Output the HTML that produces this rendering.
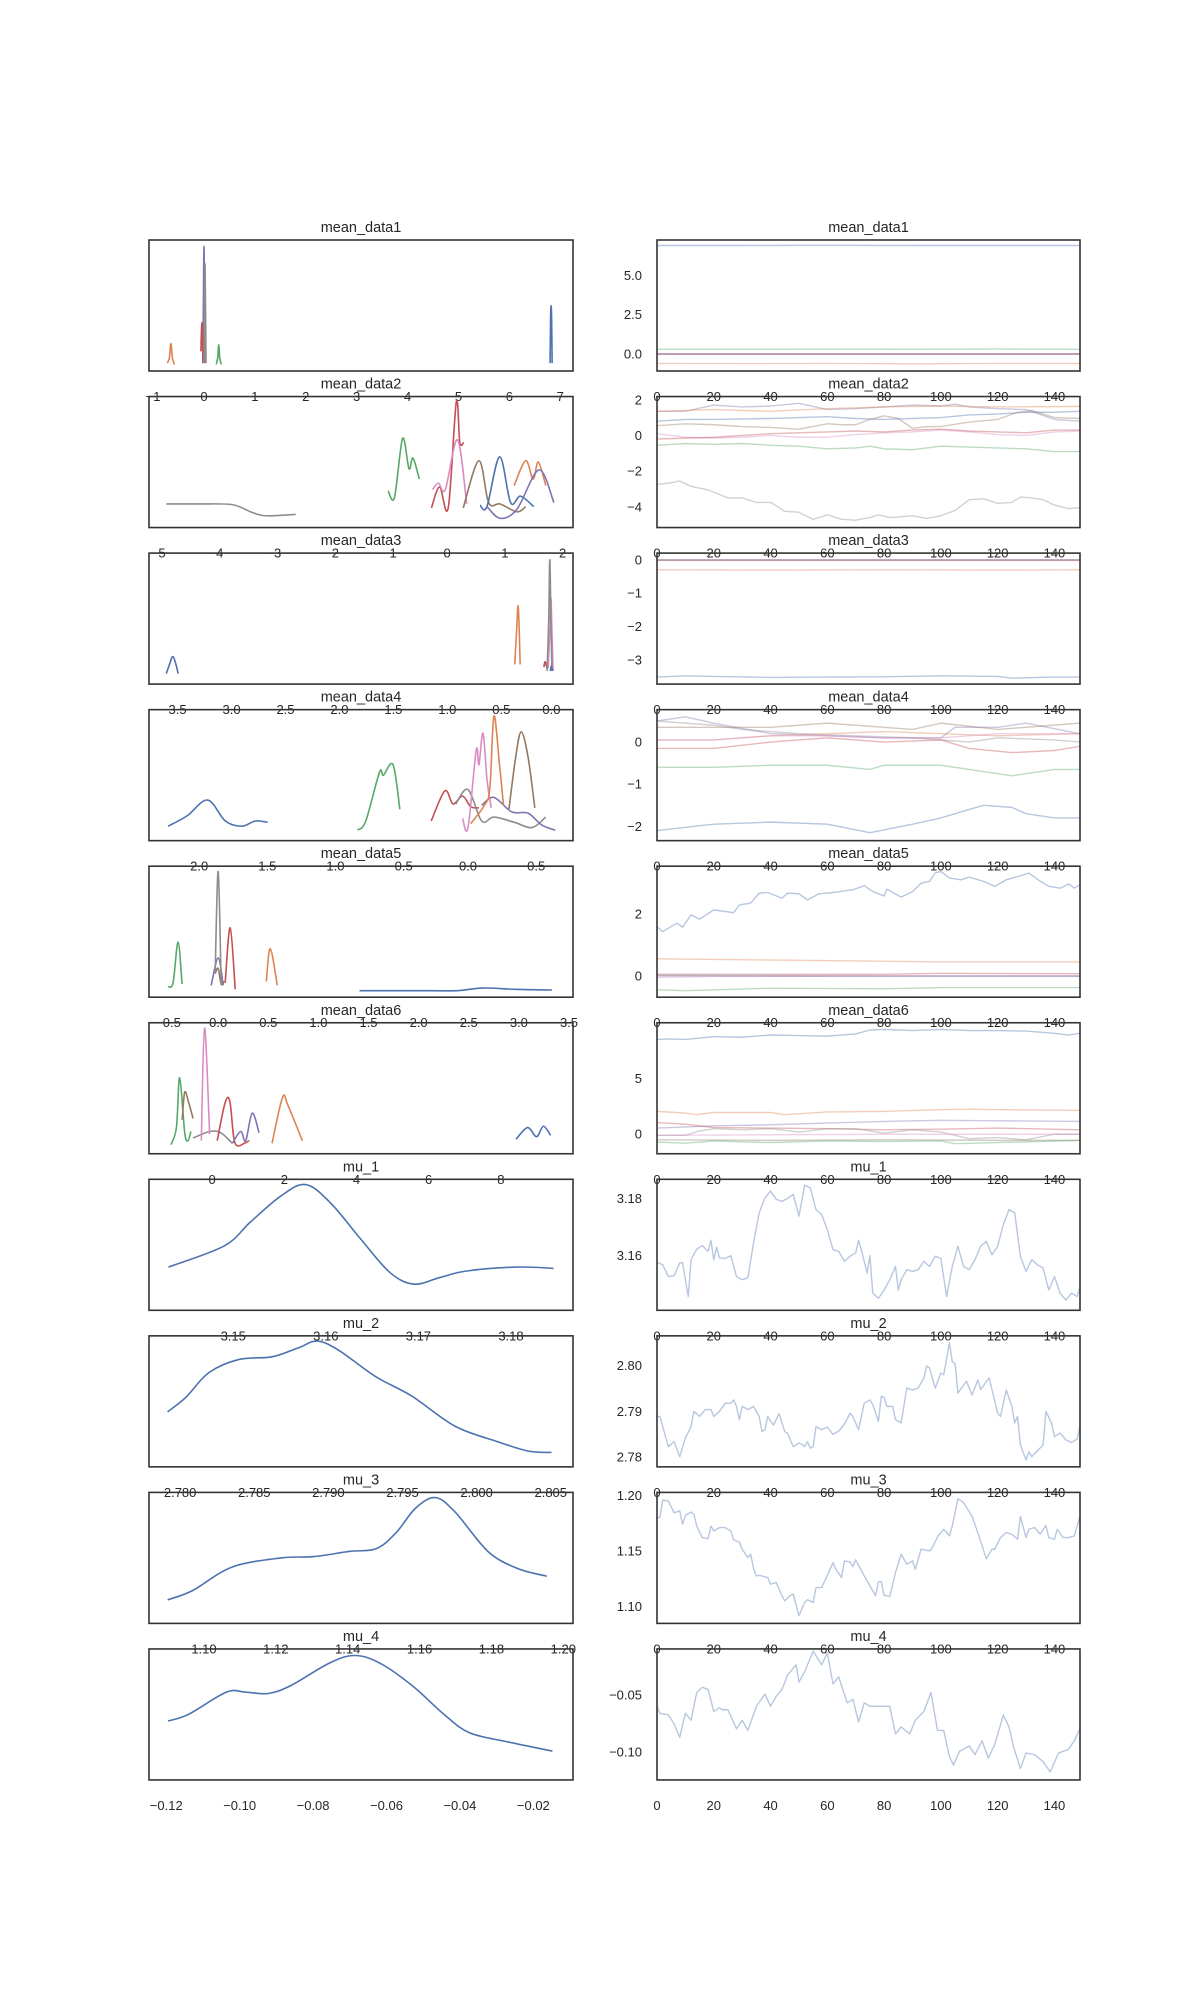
<!DOCTYPE html>
<html><head><meta charset="utf-8"><style>
html,body{margin:0;padding:0;background:#fff;}
svg{display:block;font-family:"Liberation Sans",sans-serif;}
</style></head><body>
<svg id="chart" width="1200" height="2000" viewBox="0 0 1200 2000" xmlns="http://www.w3.org/2000/svg"></svg>
<script>
// ---------- layout ----------
const LX0=149, LX1=573, RX0=657, RX1=1080, TOP0=240, PITCH=156.55, H=131;
const COL={blue:'#4c72b0',orange:'#dd8452',green:'#55a868',red:'#c44e52',purple:'#8172b3',brown:'#937860',pink:'#da8bc3',gray:'#8c8c8c'};

// ---------- data ----------
const titles=['mean_data1','mean_data2','mean_data3','mean_data4','mean_data5','mean_data6','mu_1','mu_2','mu_3','mu_4'];
const lims=[[-1.08,7.25],[-5.16,2.18],[-3.73,0.20],[-2.34,0.77],[-0.69,3.54],[-1.75,10.0],[3.1409,3.1867],[2.7779,2.8065],[1.0847,1.2027],[-0.1247,-0.0092]];
const kdeTicks=[[-1,0,1,2,3,4,5,6,7],[-5,-4,-3,-2,-1,0,1,2],[-3.5,-3,-2.5,-2,-1.5,-1,-0.5,0],[-2,-1.5,-1,-0.5,0,0.5],[-0.5,0,0.5,1,1.5,2,2.5,3,3.5],[0,2,4,6,8],[3.15,3.16,3.17,3.18],[2.78,2.785,2.79,2.795,2.8,2.805],[1.10,1.12,1.14,1.16,1.18,1.20],[-0.12,-0.10,-0.08,-0.06,-0.04,-0.02]];
const kdeTickDigits=[0,0,1,1,1,0,2,3,2,2];
const traceTicks=[[0,2.5,5],[-4,-2,0,2],[-3,-2,-1,0],[-2,-1,0],[0,2],[0,5],[3.16,3.18],[2.78,2.79,2.80],[1.10,1.15,1.20],[-0.10,-0.05]];
const traceTickDigits=[1,0,0,0,0,0,2,2,2,2];
const iterTicks=[0,20,40,60,80,100,120,140];
const iterLim=[0,149];

const kde0=[
 {c:'orange',x:[-0.72,-0.68,-0.65,-0.62,-0.58],d:[0.06,0.1,0.21,0.1,0.05]},
 {c:'purple',x:[-0.02,-0.01,0.0,0.01,0.02],d:[0.06,0.6,0.95,0.6,0.06]},
 {c:'red',x:[-0.06,-0.05,-0.04,-0.03,-0.02],d:[0.15,0.3,0.37,0.3,0.06]},
 {c:'gray',x:[0.0,0.01,0.02,0.03,0.04],d:[0.06,0.5,0.82,0.5,0.06]},
 {c:'green',x:[0.24,0.27,0.29,0.31,0.34],d:[0.05,0.1,0.2,0.1,0.05]},
 {c:'blue',x:[6.80,6.81,6.82,6.83,6.84],d:[0.06,0.4,0.5,0.4,0.06]}];
const kde1=[
 {c:'gray',x:[-4.86,-4.3,-3.72,-3.4,-3.14,-2.62],d:[0.18,0.18,0.175,0.12,0.09,0.10]},
 {c:'green',x:[-1.02,-0.91,-0.77,-0.66,-0.59,-0.48],d:[0.28,0.23,0.68,0.45,0.53,0.37]},
 {c:'red',x:[-0.27,-0.13,0.02,0.16,0.22,0.29],d:[0.15,0.31,0.15,0.96,0.65,0.65]},
 {c:'pink',x:[-0.25,-0.15,-0.03,0.18,0.34],d:[0.29,0.34,0.29,0.67,0.18]},
 {c:'brown',x:[0.28,0.55,0.72,0.92,1.21,1.36],d:[0.15,0.51,0.19,0.18,0.12,0.16]},
 {c:'blue',x:[0.57,0.69,0.91,1.10,1.27,1.5],d:[0.17,0.16,0.54,0.19,0.24,0.16]},
 {c:'orange',x:[1.16,1.36,1.49,1.58,1.71],d:[0.32,0.51,0.37,0.50,0.32]},
 {c:'purple',x:[0.69,0.92,1.21,1.59,1.85],d:[0.16,0.07,0.14,0.44,0.19]}];
const kde2=[
 {c:'blue',x:[-3.57,-3.54,-3.51,-3.48,-3.46],d:[0.08,0.15,0.21,0.15,0.08]},
 {c:'orange',x:[-0.34,-0.32,-0.31,-0.30,-0.29],d:[0.15,0.45,0.6,0.45,0.15]},
 {c:'red',x:[-0.07,-0.06,-0.05,-0.04],d:[0.13,0.17,0.15,0.12]},
 {c:'pink',x:[-0.03,-0.015,-0.005,0.005,0.015],d:[0.12,0.4,0.66,0.4,0.1]},
 {c:'gray',x:[-0.04,-0.025,-0.015,-0.005,0.005],d:[0.1,0.5,0.95,0.5,0.1]},
 {c:'blue',x:[-0.01,0.0,0.01],d:[0.1,0.14,0.1]}];
const kde3=[
 {c:'blue',x:[-2.20,-2.06,-1.91,-1.78,-1.66,-1.56,-1.47],d:[0.11,0.19,0.31,0.15,0.11,0.15,0.14]},
 {c:'green',x:[-0.81,-0.75,-0.65,-0.62,-0.55,-0.50],d:[0.08,0.15,0.52,0.5,0.58,0.24]},
 {c:'red',x:[-0.27,-0.17,-0.11,-0.04,0.02,0.08],d:[0.15,0.38,0.28,0.34,0.26,0.25]},
 {c:'gray',x:[-0.09,0.0,0.10,0.19,0.34,0.47,0.57],d:[0.28,0.39,0.15,0.18,0.14,0.1,0.18]},
 {c:'purple',x:[0.10,0.19,0.32,0.44,0.54,0.64],d:[0.27,0.33,0.22,0.21,0.12,0.08]},
 {c:'pink',x:[-0.04,0.0,0.06,0.08,0.11,0.14,0.17],d:[0.17,0.1,0.69,0.58,0.82,0.46,0.25]},
 {c:'orange',x:[0.02,0.12,0.16,0.19,0.23,0.26],d:[0.13,0.27,0.4,0.95,0.59,0.27]},
 {c:'brown',x:[0.30,0.35,0.39,0.44,0.49],d:[0.24,0.64,0.83,0.64,0.25]}];
const kde4=[
 {c:'green',x:[-0.50,-0.45,-0.40,-0.36],d:[0.08,0.11,0.42,0.1]},
 {c:'purple',x:[-0.07,0.0,0.05],d:[0.09,0.3,0.09]},
 {c:'brown',x:[-0.03,0.0,0.03,0.06],d:[0.18,0.22,0.1,0.12]},
 {c:'gray',x:[-0.03,0.0,0.03],d:[0.18,0.96,0.09]},
 {c:'red',x:[0.07,0.12,0.17],d:[0.11,0.53,0.06]},
 {c:'orange',x:[0.48,0.52,0.59],d:[0.12,0.37,0.09]},
 {c:'blue',x:[1.41,2.1,2.38,2.64,2.97,3.33],d:[0.05,0.05,0.05,0.07,0.06,0.055]}];
const kde5=[
 {c:'green',x:[-1.14,-0.99,-0.90,-0.76,-0.67,-0.59],d:[0.07,0.2,0.58,0.16,0.1,0.17]},
 {c:'brown',x:[-0.83,-0.76,-0.65,-0.53],d:[0.26,0.47,0.39,0.27]},
 {c:'gray',x:[-0.53,-0.07,0.24,0.56],d:[0.12,0.17,0.16,0.08]},
 {c:'pink',x:[-0.3,-0.21,-0.07],d:[0.1,0.96,0.15]},
 {c:'red',x:[0.14,0.36,0.49,0.6,0.71,0.89,1.03],d:[0.1,0.39,0.4,0.12,0.06,0.08,0.1]},
 {c:'purple',x:[0.56,0.79,0.93,1.11,1.3],d:[0.08,0.17,0.1,0.31,0.16]},
 {c:'orange',x:[1.66,1.95,2.1,2.5],d:[0.08,0.43,0.37,0.1]},
 {c:'blue',x:[8.42,8.74,8.99,9.18,9.38],d:[0.11,0.2,0.13,0.21,0.14]}];
const kde6=[{c:'blue',x:[3.143,3.149,3.1518,3.1551,3.1578,3.1605,3.1637,3.1669,3.1695,3.1723,3.1752,3.1806,3.1846],d:[0.33,0.49,0.67,0.87,0.96,0.82,0.55,0.29,0.2,0.25,0.3,0.33,0.32]}];
const kde7=[{c:'blue',x:[2.77915,2.78038,2.78195,2.78397,2.78621,2.78801,2.78924,2.7907,2.79317,2.79563,2.79855,2.80147,2.80349,2.80505],d:[0.42,0.53,0.72,0.82,0.84,0.91,0.96,0.89,0.69,0.54,0.31,0.19,0.12,0.11]}];
const kde8=[{c:'blue',x:[1.0899,1.0968,1.1078,1.1215,1.1306,1.1406,1.1479,1.1534,1.1589,1.1644,1.1699,1.179,1.1872,1.1954],d:[0.18,0.25,0.43,0.5,0.51,0.55,0.57,0.69,0.88,0.96,0.85,0.55,0.42,0.36]}];
const kde9=[{c:'blue',x:[-0.1195,-0.114,-0.1036,-0.0983,-0.0922,-0.0861,-0.0757,-0.0687,-0.0617,-0.053,-0.0443,-0.0374,-0.0269,-0.0148],d:[0.45,0.5,0.67,0.67,0.66,0.72,0.89,0.95,0.89,0.72,0.5,0.36,0.29,0.22]}];

const tr0=[
 {c:'blue',it:[0,30,60,90,120,149],v:[6.9,6.9,6.91,6.9,6.9,6.9]},
 {c:'green',it:[0,30,60,90,120,149],v:[0.3,0.3,0.31,0.3,0.32,0.3]},
 {c:'orange',it:[0,30,60,90,120,149],v:[-0.6,-0.61,-0.6,-0.62,-0.6,-0.6]},
 {c:'pink',it:[0,75,149],v:[0.02,0.02,0.02]},
 {c:'gray',it:[0,75,149],v:[0.0,0.0,0.0]},
 {c:'red',it:[0,75,149],v:[0.0,0.0,0.0]},
 {c:'purple',it:[0,75,149],v:[0.0,0.0,0.0]}];
const tr1=[
 {c:'purple',it:[0,10,20,30,40,50,60,70,80,90,100,105,110,120,130,140,149],v:[1.35,1.35,1.7,1.6,1.65,1.8,1.45,1.5,1.6,1.7,1.65,1.75,1.6,1.5,1.45,0.9,0.8]},
 {c:'orange',it:[0,20,40,60,80,100,120,149],v:[1.35,1.45,1.35,1.5,1.6,1.65,1.6,1.63]},
 {c:'blue',it:[0,10,20,40,60,70,80,90,100,110,120,130,140,149],v:[0.8,0.9,0.9,0.95,1.05,0.95,0.9,0.95,1.0,1.15,1.2,1.3,1.3,1.35]},
 {c:'brown',it:[0,10,20,30,40,50,60,65,70,75,80,85,90,95,100,110,120,127,132,140,149],v:[0.55,0.65,0.6,0.5,0.45,0.35,0.65,0.6,0.6,0.9,1.1,0.95,0.4,0.5,0.5,0.75,0.9,1.3,1.4,1.0,0.95]},
 {c:'pink',it:[0,10,20,30,40,50,60,70,80,90,100,110,120,130,140,149],v:[0.1,-0.1,-0.15,-0.1,0.0,-0.1,-0.1,0.05,0.15,0.2,0.3,0.2,0.05,0.0,0.2,0.25]},
 {c:'red',it:[0,10,20,30,40,50,60,70,80,90,100,110,120,130,140,149],v:[-0.2,-0.15,-0.1,0.0,0.1,0.15,0.2,0.25,0.2,0.3,0.35,0.25,0.2,0.15,0.3,0.3]},
 {c:'green',it:[0,10,20,30,40,50,60,70,75,80,90,100,110,120,130,140,149],v:[-0.55,-0.45,-0.5,-0.45,-0.55,-0.6,-0.75,-0.7,-0.6,-0.75,-0.8,-0.6,-0.65,-0.7,-0.75,-0.9,-0.9]},
 {c:'gray',it:[0,5,8,12,18,25,30,35,40,45,50,55,60,65,70,75,78,82,90,95,100,105,110,115,120,125,128,132,136,140,145,149],v:[-2.75,-2.65,-2.55,-2.85,-3.05,-3.5,-3.5,-3.75,-3.75,-4.25,-4.3,-4.7,-4.45,-4.7,-4.75,-4.6,-4.45,-4.6,-4.5,-4.65,-4.5,-4.2,-3.6,-3.55,-3.8,-3.75,-3.45,-3.5,-3.6,-3.9,-4.1,-4.05]}];
const tr2=[
 {c:'blue',it:[0,10,20,40,60,80,100,120,125,140,149],v:[-3.52,-3.48,-3.5,-3.53,-3.52,-3.51,-3.48,-3.5,-3.55,-3.52,-3.52]},
 {c:'orange',it:[0,40,80,120,149],v:[-0.3,-0.31,-0.3,-0.31,-0.3]},
 {c:'pink',it:[0,75,149],v:[0.0,0.0,0.0]},
 {c:'red',it:[0,75,149],v:[-0.02,-0.02,-0.02]},
 {c:'purple',it:[0,75,149],v:[-0.01,-0.01,-0.01]},
 {c:'gray',it:[0,75,149],v:[0.0,0.0,0.0]}];
const tr3=[
 {c:'purple',it:[0,10,20,40,60,80,100,105,120,130,149],v:[0.5,0.6,0.45,0.2,0.15,0.1,0.1,0.35,0.35,0.45,0.2]},
 {c:'brown',it:[0,20,40,60,80,90,100,120,149],v:[0.35,0.35,0.35,0.45,0.35,0.3,0.45,0.3,0.45]},
 {c:'gray',it:[0,20,30,50,70,90,110,120,140,149],v:[0.5,0.4,0.3,0.2,0.15,0.1,0.0,0.1,0.05,0.0]},
 {c:'orange',it:[0,20,40,60,80,100,120,149],v:[0.05,0.05,0.15,0.2,0.25,0.2,0.15,0.2]},
 {c:'pink',it:[0,20,40,60,80,100,120,149],v:[0.05,0.05,0.15,0.15,0.1,0.1,0.2,0.2]},
 {c:'red',it:[0,20,40,60,80,100,110,125,140,149],v:[-0.15,-0.15,0.0,0.1,0.0,0.05,-0.15,-0.25,-0.2,-0.1]},
 {c:'green',it:[0,20,40,60,75,80,100,110,125,140,149],v:[-0.6,-0.6,-0.55,-0.55,-0.65,-0.55,-0.55,-0.65,-0.8,-0.65,-0.65]},
 {c:'blue',it:[0,20,40,60,75,90,100,110,115,125,130,140,149],v:[-2.1,-1.95,-1.9,-1.95,-2.15,-1.95,-1.8,-1.6,-1.5,-1.55,-1.7,-1.8,-1.8]}];
const tr4=[
 {c:'blue',it:[0,2,7,9,12,15,20,27,29,33,36,39,44,46,50,53,57,62,69,73,76,80,81,86,90,93,96,98,100,103,107,110,115,119,123,128,131,135,138,142,145,147,149],v:[1.59,1.43,1.7,1.57,1.97,1.83,2.13,2.04,2.29,2.35,2.67,2.69,2.51,2.67,2.65,2.45,2.65,2.69,2.78,2.91,2.72,2.58,2.8,2.54,2.72,2.99,3.05,3.32,3.37,3.16,3.1,3.19,3.05,2.89,3.1,3.23,3.32,3.05,2.89,2.83,2.97,2.83,2.94]},
 {c:'orange',it:[0,50,100,149],v:[0.55,0.5,0.45,0.45]},
 {c:'red',it:[0,40,80,100,149],v:[0.05,0.05,0.05,0.08,0.07]},
 {c:'gray',it:[0,75,149],v:[0.02,0.0,0.0]},
 {c:'pink',it:[0,20,75,149],v:[-0.05,-0.02,0.0,0.0]},
 {c:'purple',it:[0,75,149],v:[0.0,-0.02,-0.02]},
 {c:'green',it:[0,10,40,80,100,149],v:[-0.45,-0.48,-0.4,-0.42,-0.38,-0.38]}];
const tr5=[
 {c:'blue',it:[0,5,10,20,30,40,50,60,70,75,80,90,100,110,120,130,140,145,149],v:[8.5,8.55,8.5,8.75,8.7,8.9,8.85,8.8,9.0,9.35,9.4,9.3,9.4,9.3,9.3,9.25,9.05,8.9,9.05]},
 {c:'orange',it:[0,10,14,20,40,45,60,80,100,110,120,149],v:[2.05,1.9,1.75,1.95,1.95,1.75,2.0,2.05,2.2,2.25,2.2,2.15]},
 {c:'purple',it:[0,20,40,60,80,100,120,149],v:[0.55,0.75,0.85,1.0,1.15,1.25,1.2,1.15]},
 {c:'red',it:[0,10,20,40,60,80,100,120,149],v:[1.05,0.9,0.6,0.55,0.5,0.4,0.45,0.55,0.4]},
 {c:'gray',it:[0,10,15,20,30,40,50,60,70,80,90,100,110,120,130,140,149],v:[-0.1,-0.1,0.3,0.5,0.4,0.5,0.2,0.5,0.5,0.1,0.4,0.2,-0.4,-0.3,-0.5,0.0,0.0]},
 {c:'pink',it:[0,40,80,120,149],v:[-0.1,-0.05,0.0,0.0,0.0]},
 {c:'brown',it:[0,40,80,120,149],v:[-0.5,-0.55,-0.5,-0.55,-0.55]},
 {c:'green',it:[0,10,20,40,60,80,100,105,120,149],v:[-0.7,-0.8,-0.6,-0.75,-0.6,-0.65,-0.6,-0.85,-0.75,-0.55]}];
const tr6=[{c:'blue',it:[0,2,4,6,8,9,11,12,14,16,18,19,20,21,22,24,26,28,30,32,34,36,38,40,42,44,46,48,50,52,54,56,58,60,62,64,66,68,70,71,72,74,75,76,78,80,82,84,85,86,88,90,92,94,96,98,100,102,104,106,108,110,112,114,116,118,120,122,124,126,128,130,132,134,136,138,140,142,144,146,148,149],
 v:[3.1577,3.1568,3.1527,3.1530,3.1574,3.1576,3.1457,3.1586,3.1623,3.1635,3.1615,3.1654,3.1586,3.1630,3.1592,3.1590,3.1600,3.1527,3.1516,3.1522,3.1644,3.1750,3.1802,3.1826,3.1797,3.1790,3.1800,3.1814,3.1738,3.1846,3.1837,3.1761,3.1744,3.1691,3.1621,3.1615,3.1580,3.1598,3.1610,3.1654,3.1620,3.1539,3.1600,3.1469,3.1451,3.1480,3.1516,3.1562,3.1480,3.1516,3.1551,3.1545,3.1551,3.1580,3.1562,3.1598,3.1590,3.1457,3.1562,3.1633,3.1562,3.1551,3.1586,3.1633,3.1650,3.1603,3.1633,3.1709,3.1761,3.1750,3.1598,3.1545,3.1586,3.1568,3.1557,3.1480,3.1527,3.1469,3.1445,3.1469,3.1457,3.1492]}];
const tr7=[{c:'blue',it:[0,1,4,6,8,10,12,13,15,17,19,20,22,24,26,27,28,29,30,32,34,36,37,38,39,41,43,45,46,48,50,51,52,53,54,55,56,58,60,62,64,66,68,69,71,73,75,76,78,79,80,81,83,84,86,88,90,92,94,95,96,98,100,101,103,104,105,106,109,111,113,114,117,120,121,123,125,126,127,128,130,131,132,136,137,139,140,142,144,146,148,149],
 v:[2.7889,2.7889,2.7823,2.7834,2.7801,2.7842,2.7867,2.7900,2.7889,2.7904,2.7904,2.7889,2.7900,2.7918,2.7918,2.7925,2.7911,2.7882,2.7911,2.7904,2.7911,2.7889,2.7856,2.7860,2.7889,2.7870,2.7895,2.7856,2.7852,2.7823,2.7831,2.7828,2.7823,2.7834,2.7820,2.7823,2.7867,2.7860,2.7866,2.7850,2.7857,2.7872,2.7896,2.7889,2.7860,2.7918,2.7925,2.7915,2.7878,2.7933,2.7930,2.7911,2.7911,2.7882,2.7875,2.7951,2.7947,2.7951,2.7973,2.7999,2.7995,2.7951,2.7984,2.7980,2.8050,2.8009,2.8004,2.7940,2.7966,2.7936,2.7969,2.7948,2.7973,2.7896,2.7889,2.7947,2.7911,2.7875,2.7889,2.7827,2.7794,2.7812,2.7801,2.7827,2.7900,2.7874,2.7845,2.7853,2.7838,2.7832,2.7840,2.7868]}];
const tr8=[{c:'blue',it:[0,1,2,4,6,8,9,10,12,13,14,16,18,19,20,22,24,26,27,29,30,32,33,34,35,36,39,40,42,44,45,47,48,50,52,53,55,56,58,60,62,63,65,66,68,69,70,73,75,77,78,79,80,82,84,86,88,90,91,93,96,97,99,101,103,104,106,108,110,111,113,116,118,119,121,123,125,127,128,130,131,133,135,137,138,140,141,143,145,147,149],
 v:[1.18,1.18,1.1958,1.195,1.1844,1.186,1.174,1.182,1.185,1.183,1.1724,1.162,1.161,1.1724,1.168,1.171,1.171,1.168,1.160,1.158,1.1515,1.144,1.147,1.134,1.1275,1.128,1.126,1.12,1.1216,1.1096,1.105,1.110,1.111,1.0916,1.1036,1.106,1.1036,1.117,1.117,1.128,1.1395,1.1335,1.126,1.141,1.140,1.136,1.142,1.1275,1.1186,1.1096,1.1222,1.1222,1.110,1.109,1.1305,1.147,1.138,1.141,1.1335,1.1515,1.15,1.153,1.1635,1.1695,1.1635,1.1724,1.197,1.1934,1.185,1.181,1.1665,1.143,1.1515,1.1515,1.162,1.1665,1.165,1.1605,1.181,1.162,1.1695,1.171,1.165,1.173,1.162,1.1605,1.1695,1.162,1.162,1.1635,1.1814]}];
const tr9=[{c:'blue',it:[0,1,4,6,8,10,12,14,16,18,20,22,23,25,28,30,32,35,38,40,42,44,46,49,50,52,55,58,60,62,64,67,69,71,73,75,79,82,84,86,89,91,94,96.5,98.8,101,103,104.4,106.6,110,112,114.5,116.7,119,122,124,125.7,128,130,133,136,138.5,141.4,144.8,147,149],
 v:[-0.0598,-0.0659,-0.0674,-0.075,-0.0872,-0.0659,-0.072,-0.0476,-0.043,-0.045,-0.0643,-0.061,-0.0628,-0.0628,-0.0796,-0.072,-0.081,-0.0598,-0.049,-0.0598,-0.051,-0.045,-0.0323,-0.0232,-0.0384,-0.0293,-0.011,-0.0232,-0.0125,-0.04,-0.0338,-0.0567,-0.0537,-0.0735,-0.0567,-0.0598,-0.0598,-0.0598,-0.0841,-0.078,-0.0841,-0.072,-0.0643,-0.0476,-0.081,-0.081,-0.104,-0.1116,-0.0994,-0.0948,-0.1024,-0.0902,-0.1055,-0.0933,-0.0674,-0.078,-0.0963,-0.1146,-0.101,-0.1024,-0.1085,-0.1177,-0.101,-0.0979,-0.0902,-0.0796]}];

const kdes=[kde0,kde1,kde2,kde3,kde4,kde5,kde6,kde7,kde8,kde9];
const traces=[tr0,tr1,tr2,tr3,tr4,tr5,tr6,tr7,tr8,tr9];

// ---------- drawing ----------
const NS='http://www.w3.org/2000/svg';
const svg=document.getElementById('chart');
function mk(tag,attrs,parent){const e=document.createElementNS(NS,tag);for(const k in attrs)e.setAttribute(k,attrs[k]);(parent||svg).appendChild(e);return e;}
function fmt(v,d){const s=Math.abs(v).toFixed(d);return (v<0&&Number(s)!==0?'\u2212':'')+s;}
function smooth(pts){let d='M'+pts[0][0].toFixed(2)+','+pts[0][1].toFixed(2);
 for(let i=0;i<pts.length-1;i++){const p0=pts[i-1]||pts[i],p1=pts[i],p2=pts[i+1],p3=pts[i+2]||p2;
  const c1x=p1[0]+(p2[0]-p0[0])/6,c1y=p1[1]+(p2[1]-p0[1])/6,c2x=p2[0]-(p3[0]-p1[0])/6,c2y=p2[1]-(p3[1]-p1[1])/6;
  d+=' C'+c1x.toFixed(2)+','+c1y.toFixed(2)+' '+c2x.toFixed(2)+','+c2y.toFixed(2)+' '+p2[0].toFixed(2)+','+p2[1].toFixed(2);}
 return d;}
const defs=mk('defs',{});
for(let r=0;r<10;r++){
 const top=TOP0+PITCH*r, bot=top+H, lim=lims[r];
 const kx=v=>LX0+(v-lim[0])/(lim[1]-lim[0])*(LX1-LX0);
 const ky=d=>bot-d*H;
 const tx=i=>RX0+(i-iterLim[0])/(iterLim[1]-iterLim[0])*(RX1-RX0);
 const ty=v=>bot-(v-lim[0])/(lim[1]-lim[0])*H;
 const cpL=mk('clipPath',{id:'cl'+r},defs);mk('rect',{x:LX0,y:top,width:LX1-LX0,height:H},cpL);
 const cpR=mk('clipPath',{id:'cr'+r},defs);mk('rect',{x:RX0,y:top,width:RX1-RX0,height:H},cpR);
 const gL=mk('g',{'clip-path':'url(#cl'+r+')'});
 
 
 kdes[r].forEach(s=>{const p=mk('path',{d:smooth(s.x.map((x,i)=>[kx(x),ky(s.d[i])])),fill:'none',stroke:COL[s.c],'stroke-width':1.6,'stroke-linejoin':'round'},gL);
  
  });
 const gR=mk('g',{'clip-path':'url(#cr'+r+')'});
 
 
 traces[r].forEach(s=>{const p=mk('polyline',{points:s.it.map((it,i)=>tx(it).toFixed(2)+','+ty(s.v[i]).toFixed(2)).join(' '),fill:'none',stroke:COL[s.c],'stroke-opacity':0.4,'stroke-width':1.4,'stroke-linejoin':'round'},gR);
  
  });
 const fL=mk('rect',{x:LX0,y:top,width:LX1-LX0,height:H,fill:'none',stroke:'#333','stroke-width':1.6});
 
 
 const fR=mk('rect',{x:RX0,y:top,width:RX1-RX0,height:H,fill:'none',stroke:'#333','stroke-width':1.6});
 
 
 [[ (LX0+LX1)/2,'kde-title'],[(RX0+RX1)/2,'trace-title']].forEach(([cx,nm])=>{
  const t=mk('text',{x:cx,y:top-8,'text-anchor':'middle','font-size':14.5,fill:'#262626'});t.textContent=titles[r];
  
  });
 const ly=bot+30;
 kdeTicks[r].forEach(v=>{const t=mk('text',{x:kx(v),y:ly,'text-anchor':'middle','font-size':13,fill:'#262626'});t.textContent=fmt(v,kdeTickDigits[r]);
  
  });
 iterTicks.forEach(v=>{const t=mk('text',{x:tx(v),y:ly,'text-anchor':'middle','font-size':13,fill:'#262626'});t.textContent=String(v);
  
  });
 traceTicks[r].forEach(v=>{const t=mk('text',{x:RX0-15,y:ty(v)+4.5,'text-anchor':'end','font-size':13,fill:'#262626'});t.textContent=fmt(v,traceTickDigits[r]);
  
  });
}
</script>
</body></html>
